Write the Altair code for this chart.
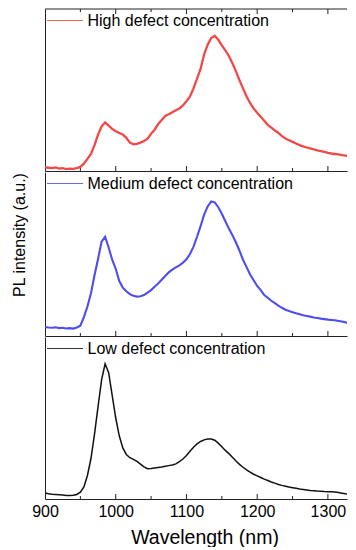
import altair as alt
import pandas as pd

# ---------------- data ----------------
WAVELENGTH = list(range(900, 1346, 5))  # nm, 900 ... 1345

NAMES = ["High defect concentration", "Medium defect concentration", "Low defect concentration"]

HIGH = [
    2.5, 2.0, 1.8, 2.2, 1.5, 1.8, 1.2, 1.5, 1.3, 1.8,
    2.5, 4.5, 7.5, 10.5, 16, 22.5, 27.5, 30, 28, 26,
    24.5, 23.5, 22.5, 20.5, 17.5, 16.5, 16.8, 17.5, 18.5, 20,
    23, 25.5, 29, 31.5, 34, 35, 36.2, 37.5, 38.5, 40.5,
    43, 46, 51, 57, 63, 72, 78, 82, 83.5, 81,
    77.5, 74.5, 71, 66.5, 61.5, 56, 51, 46, 42, 38.5,
    36, 33.5, 31, 28.5, 26.8, 25, 23.5, 21.5, 20, 19,
    18, 17, 16, 15.2, 14.5, 14, 13.3, 12.8, 12.3, 11.8,
    11.2, 10.8, 10.5, 10.2, 9.8, 9.5, 9, 8.3, 7.8, 7.5,
]

MEDIUM = [
    5.5, 5.2, 5.0, 5.3, 4.8, 5.0, 4.6, 4.8, 4.5, 5.2,
    6.3, 11.5, 18, 26, 37, 47, 57.5, 60.5, 54, 46.5,
    41, 33.5, 29.5, 27.3, 25.5, 24.5, 24, 24.2, 25, 26.5,
    28, 30, 32, 34.3, 36.6, 38.8, 40.5, 41.8, 43, 44.7,
    46.8, 50, 54.5, 60.5, 67, 74, 79, 82, 81.5, 78.5,
    74.5, 70, 65.5, 61.5, 57, 52, 46.5, 42, 37.5, 34,
    30.5, 28, 25, 23.3, 21.5, 20, 18.5, 17.2, 16, 15.2,
    14.5, 13.8, 13.2, 12.6, 12.2, 11.8, 11.3, 11, 10.6, 10.3,
    10, 9.8, 9.6, 9.2, 8.8, 8.3, 7.8, 7.2, 6.8, 6.5,
]

LOW = [
    3.7, 3.3, 3.0, 2.8, 2.6, 2.4, 2.2, 2.1, 2.3, 2.8,
    4.2, 7.5, 14.5, 25, 40, 57, 73.5, 83.5, 78, 64,
    50, 39, 31.5, 27.5, 25.5, 24.5, 23.2, 21.5, 19.8, 18.7,
    18.8, 19.2, 19.5, 19.8, 20.2, 20.6, 21, 21.7, 23, 24.7,
    26.8, 29.5, 32, 34, 35.5, 36.5, 37, 37, 36.3, 34.5,
    32.3, 30, 28, 25.8, 23.5, 21.4, 19.6, 18, 16.6, 15.3,
    14.3, 13.3, 12.3, 11.4, 10.5, 9.8, 9.0, 8.4, 7.9, 7.4,
    7.0, 6.6, 6.2, 5.9, 5.6, 5.3, 5.1, 4.9, 4.8, 4.6,
    4.5, 4.4, 4.3, 4.0, 3.6, 3.2, 2.9, 2.5, 2.2, 2.0,
]

SERIES = [HIGH, MEDIUM, LOW]
COLORS = ["#f24848", "#4d4df2", "#111111"]
WIDTHS = [2.3, 2.1, 1.5]

LABEL_TICKS = [900, 1000, 1100, 1200, 1300]
MAJOR_TICKS = [1000, 1100, 1200, 1300]
MINOR_TICKS = [950, 1050, 1150, 1250]

X_TITLE = "Wavelength (nm)"
Y_TITLE = "PL intensity (a.u.)"

# ---------------- layout / style ----------------
FONT = "Liberation Sans"
FRAME = "#222222"
W = 302
HEIGHTS = [162, 164, 162]
X_SCALE = alt.Scale(domain=[900, 1327], nice=False, zero=False)
Y_SCALE = alt.Scale(domain=[0, 100], nice=False, zero=False)


def x_enc(field, bottom):
    if bottom:
        axis = alt.Axis(
            domain=True, domainColor=FRAME, domainWidth=1, ticks=False, tickSize=0,
            grid=False, values=LABEL_TICKS, format="d", labelFlush=False,
            labelFont=FONT, labelFontSize=16, labelColor="black", labelPadding=4,
            titleFont=FONT, titleFontSize=19.5, titleFontWeight="normal",
            titleColor="black", titlePadding=9, titleX=159.5, titleAlign="center",
        )
        return alt.X(field, scale=X_SCALE, axis=axis, title=X_TITLE)
    axis = alt.Axis(domain=True, domainColor=FRAME, domainWidth=1, ticks=False,
                    tickSize=0, grid=False, labels=False)
    return alt.X(field, scale=X_SCALE, axis=axis, title=None)


def panel(idx):
    h = HEIGHTS[idx]
    bottom = idx == 2
    df = pd.DataFrame({"nm": WAVELENGTH, "v": SERIES[idx]})

    if idx == 1:
        yaxis = alt.Axis(domain=True, domainColor=FRAME, domainWidth=1, ticks=False,
                         labels=False, grid=False, titleFont=FONT, titleFontSize=16,
                         titleFontWeight="normal", titleColor="black",
                         titleX=-20.5, titleY=62.5, titleBaseline="alphabetic")
        y = alt.Y("v:Q", scale=Y_SCALE, axis=yaxis, title=Y_TITLE)
    else:
        yaxis = alt.Axis(domain=True, domainColor=FRAME, domainWidth=1, ticks=False,
                         labels=False, grid=False)
        y = alt.Y("v:Q", scale=Y_SCALE, axis=yaxis, title=None)

    line = alt.Chart(df).mark_line(
        color=COLORS[idx], strokeWidth=WIDTHS[idx], clip=True, interpolate="linear"
    ).encode(x=x_enc("nm:Q", bottom), y=y)

    major = alt.Chart(pd.DataFrame({"t": MAJOR_TICKS})).mark_rule(
        color=FRAME, strokeWidth=1
    ).encode(x=x_enc("t:Q", bottom), y=alt.value(h), y2=alt.value(h - 5))
    minor = alt.Chart(pd.DataFrame({"t": MINOR_TICKS})).mark_rule(
        color=FRAME, strokeWidth=1
    ).encode(x=x_enc("t:Q", bottom), y=alt.value(h), y2=alt.value(h - 3))

    layers = [major, minor]

    if idx == 0:
        top_major = alt.Chart(pd.DataFrame({"t": MAJOR_TICKS})).mark_rule(
            color=FRAME, strokeWidth=1
        ).encode(x=x_enc("t:Q", bottom), y=alt.value(0), y2=alt.value(5))
        top_minor = alt.Chart(pd.DataFrame({"t": MINOR_TICKS})).mark_rule(
            color=FRAME, strokeWidth=1
        ).encode(x=x_enc("t:Q", bottom), y=alt.value(0), y2=alt.value(3))
        top_border = alt.Chart(pd.DataFrame({"a": [0]})).mark_rule(
            color=FRAME, strokeWidth=1
        ).encode(x=alt.value(0), x2=alt.value(W), y=alt.value(0))
        layers += [top_major, top_minor, top_border]

    layers.append(line)

    leg_df = pd.DataFrame({"name": [NAMES[idx]]})
    leg_line = alt.Chart(leg_df).mark_rule(
        color=COLORS[idx], strokeWidth=1.2, opacity=0.85
    ).encode(x=alt.value(2), x2=alt.value(38), y=alt.value(11.5))
    leg_text = alt.Chart(leg_df).mark_text(
        align="left", baseline="alphabetic", font=FONT, fontSize=16, color="black"
    ).encode(x=alt.value(42.5), y=alt.value(17), text="name:N")
    layers += [leg_line, leg_text]

    return alt.layer(*layers).properties(width=W, height=h)


chart = alt.vconcat(panel(0), panel(1), panel(2), spacing=0).properties(
    padding={"left": 3, "top": 0, "right": 0, "bottom": 0},
    background="white",
).configure_view(stroke=None)

chart.save("out.html", embed_options={"renderer": "svg", "actions": False})
